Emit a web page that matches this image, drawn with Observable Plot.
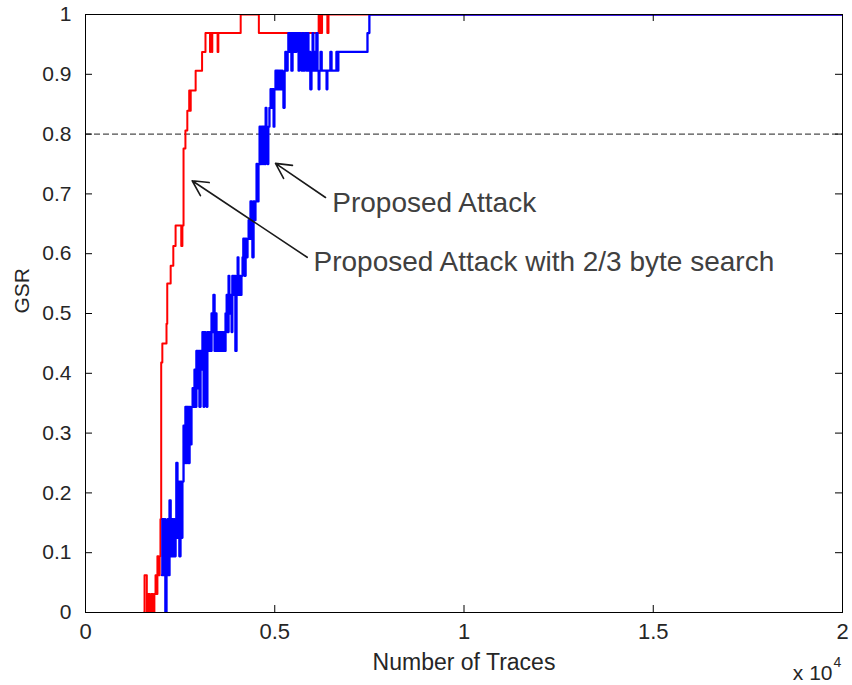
<!DOCTYPE html>
<html><head><meta charset="utf-8">
<script src="https://cdn.jsdelivr.net/npm/d3@7"></script>
<script src="https://cdn.jsdelivr.net/npm/@observablehq/plot@0.6"></script>
<style>body{margin:0;background:#fff}</style>
</head><body><div id="chart"></div>
<script>
// GSR vs number of traces, step points [traces, GSR]
const redSteps = [
 [1540,0],[1560,0.0625],[1620,0],[1650,0.031],[1700,0],[1740,0.031],[1790,0],[1820,0.031],[1850,0.0625],
 [1880,0.031],[1900,0.094],[1930,0.0625],[1960,0.094],[1980,0.156],[2000,0.418],[2030,0.45],[2140,0.483],
 [2160,0.55],[2250,0.58],[2320,0.613],[2380,0.647],[2530,0.613],[2560,0.647],[2590,0.776],[2640,0.806],
 [2690,0.839],[2740,0.873],[2760,0.839],[2780,0.873],[2910,0.906],[3080,0.9375],[3170,0.969],[3290,0.9375],
 [3300,0.969],[3340,0.9375],[3350,0.969],[3490,0.9375],[3510,0.969],[4100,1],[4580,0.969],[6160,1],
 [6180,0.969],[6200,1],[6230,0.969],[6250,1],[6390,0.969],[6420,1],[20000,1]
];
const blueSteps = [
 [2020,0.0625],[2030,0.156],[2060,0.0625],[2090,0.156],[2110,0],[2140,0.0625],[2170,0.156],[2190,0.0625],
 [2220,0.1875],[2250,0.094],[2270,0.156],[2300,0.094],[2330,0.156],[2350,0.094],[2380,0.156],[2400,0.25],
 [2430,0.125],[2460,0.219],[2480,0.094],[2510,0.219],[2540,0.125],[2560,0.219],[2590,0.3125],[2620,0.25],
 [2640,0.344],[2670,0.25],[2690,0.344],[2720,0.25],[2750,0.344],[2770,0.281],[2800,0.344],[2830,0.375],
 [2850,0.344],[2880,0.406],[2910,0.344],[2930,0.4375],[2960,0.375],[2990,0.4375],[3010,0.344],[3040,0.4375],
 [3060,0.406],[3090,0.469],[3120,0.344],[3140,0.469],[3170,0.4375],[3200,0.344],[3220,0.469],[3250,0.4375],
 [3280,0.469],[3300,0.4375],[3330,0.5],[3360,0.469],[3380,0.531],[3410,0.4375],[3430,0.5],[3460,0.4375],
 [3490,0.469],[3510,0.4375],[3540,0.469],[3570,0.4375],[3590,0.469],[3620,0.4375],[3650,0.469],[3670,0.4375],
 [3700,0.5],[3730,0.531],[3750,0.469],[3780,0.563],[3800,0.5],[3830,0.531],[3860,0.469],[3880,0.563],
 [3910,0.531],[3940,0.563],[3960,0.4375],[3990,0.563],[4020,0.594],[4040,0.531],[4070,0.563],[4100,0.531],
 [4120,0.563],[4150,0.594],[4170,0.625],[4200,0.563],[4230,0.625],[4250,0.594],[4280,0.625],[4310,0.656],
 [4330,0.625],[4360,0.6875],[4390,0.656],[4410,0.594],[4440,0.6875],[4470,0.656],[4490,0.6875],[4520,0.75],
 [4540,0.6875],[4570,0.75],[4600,0.8125],[4620,0.75],[4650,0.8125],[4680,0.75],[4700,0.8125],[4730,0.75],
 [4760,0.844],[4780,0.8125],[4810,0.75],[4830,0.8125],[4860,0.844],[4890,0.875],[4910,0.844],[4940,0.875],
 [4970,0.8125],[4990,0.875],[5020,0.906],[5050,0.875],[5070,0.906],[5100,0.875],[5130,0.906],[5150,0.875],
 [5180,0.906],[5200,0.875],[5230,0.844],[5260,0.906],[5280,0.9375],[5310,0.906],[5340,0.9375],[5360,0.969],
 [5390,0.9375],[5420,0.969],[5440,0.906],[5470,0.969],[5500,0.9375],[5520,0.969],[5550,0.9375],[5570,0.969],
 [5630,0.906],[5650,0.969],[5680,0.9375],[5710,0.906],[5730,0.969],[5760,0.906],[5790,0.9375],[5810,0.969],
 [5840,0.906],[5870,0.969],[5890,0.906],[5920,0.9375],[5940,0.875],[5970,0.906],[6000,0.969],[6020,0.906],
 [6050,0.9375],[6080,0.906],[6100,0.969],[6130,0.906],[6160,0.875],[6180,0.906],[6210,0.9375],[6240,0.906],
 [6370,0.875],[6390,0.906],[6470,0.9375],[6500,0.906],[6630,0.9375],[6660,0.906],[6680,0.9375],[7450,0.969],
 [7500,1],[20000,1]
];
const xTicks = [0, 5000, 10000, 15000, 20000];
const xTickLabels = ["0", "0.5", "1", "1.5", "2"];
const yTicks = [0, 0.1, 0.2, 0.3, 0.4, 0.5, 0.6, 0.7, 0.8, 0.9, 1];
const yTickLabels = ["0", "0.1", "0.2", "0.3", "0.4", "0.5", "0.6", "0.7", "0.8", "0.9", "1"];
const threshold = [0.8];
const annotations = [
 {label: "Proposed Attack", x1: 6341, y1: 0.694, x2: 5020, y2: 0.751, tx: 6519, ty: 0.684},
 {label: "Proposed Attack with 2/3 byte search", x1: 5857, y1: 0.594, x2: 2819, y2: 0.722, tx: 6024, ty: 0.586}
];
const xLabel = "Number of Traces";
const yLabel = "GSR";
const xExponent = ["x 10", "4"];

const chart = Plot.plot({
  width: 852, height: 685,
  marginLeft: 85, marginRight: 10, marginTop: 14, marginBottom: 73,
  x: {domain: [0, 20000]},
  y: {domain: [0, 1]},
  style: {fontFamily: "'Liberation Sans', Arial, sans-serif", fontSize: "21px", color: "#262626", background: "white"},
  marks: [
    Plot.ruleY(threshold, {stroke: "#4d4d4d", strokeWidth: 1.3, strokeDasharray: "6,3"}),
    Plot.line(redSteps, {x: d => d[0], y: d => d[1], curve: "step-after", stroke: "#ff0000", strokeWidth: 2, clip: true}),
    Plot.line(blueSteps, {x: d => d[0], y: d => d[1], curve: "step-after", stroke: "#0000ff", strokeWidth: 2.3, clip: true}),
    Plot.arrow(annotations, {x1: "x1", y1: "y1", x2: "x2", y2: "y2", stroke: "#1a1a1a", strokeWidth: 1.6, headLength: 16, headAngle: 55}),
    Plot.text(annotations, {x: "tx", y: "ty", text: "label", textAnchor: "start", fontSize: 28, fill: "#404040"}),
    Plot.frame({stroke: "black", strokeWidth: 1}),
    Plot.ruleX(xTicks, {x: d => d, insetTop: 591, stroke: "black"}),
    Plot.ruleX(xTicks, {x: d => d, insetBottom: 591, stroke: "black"}),
    Plot.ruleY(yTicks, {y: d => d, insetRight: 750, stroke: "black"}),
    Plot.ruleY(yTicks, {y: d => d, insetLeft: 750, stroke: "black"}),
    Plot.axisX({ticks: xTicks, tickFormat: d => xTickLabels[xTicks.indexOf(d)], tickSize: 0, tickPadding: 11, label: null, fontSize: 22}),
    Plot.axisY({ticks: yTicks, tickFormat: d => yTickLabels[yTicks.indexOf(d)], tickSize: 0, tickPadding: 14, label: null, fontSize: 21}),
    Plot.text([xLabel], {frameAnchor: "bottom", dy: 50, lineAnchor: "middle", fontSize: 23, fill: "#262626"}),
    Plot.text([yLabel], {frameAnchor: "left", dx: -63, rotate: -90, lineAnchor: "middle", fontSize: 21, fill: "#262626"}),
    Plot.text([xExponent[0]], {frameAnchor: "bottom-right", dx: -10, dy: 61, textAnchor: "end", lineAnchor: "middle", fontSize: 21, fill: "#262626"}),
    Plot.text([xExponent[1]], {frameAnchor: "bottom-right", dx: -9, dy: 50, textAnchor: "start", lineAnchor: "middle", fontSize: 14, fill: "#262626"})
  ]
});
document.getElementById("chart").appendChild(chart);
</script>
</body></html>
